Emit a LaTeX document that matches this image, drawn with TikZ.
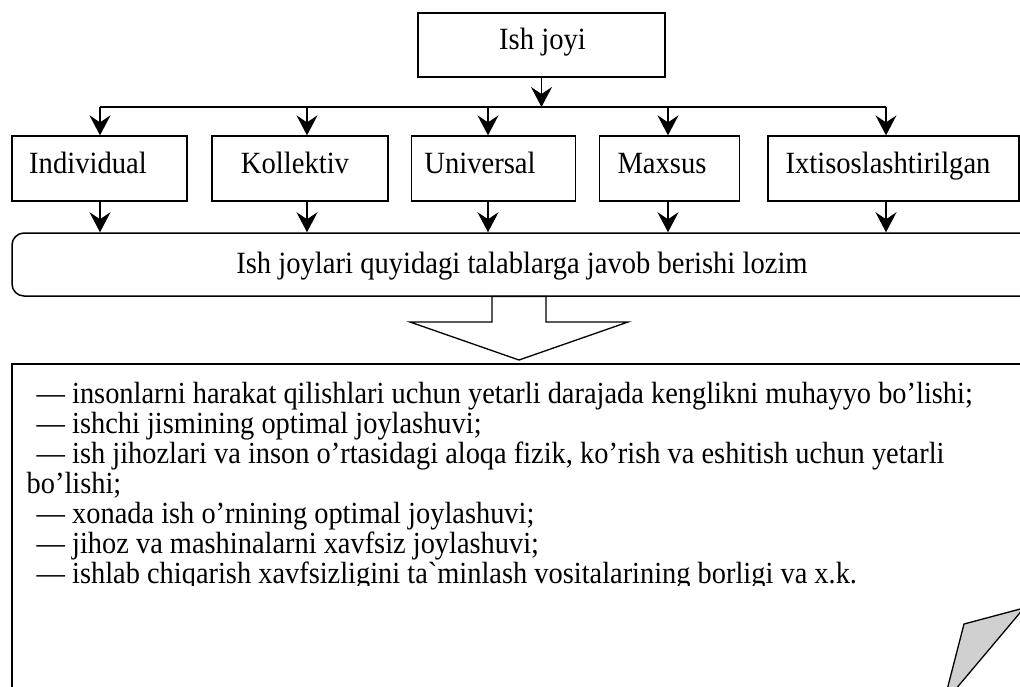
\documentclass[tikz,border=0pt]{standalone}
\usepackage{fontspec}
\newfontfamily\tnr{Liberation Serif}
\usetikzlibrary{arrows.meta}
\definecolor{curl}{RGB}{208,208,208}
\newcommand\vstretch[1]{\scalebox{1}[1.08]{#1}}
\begin{document}
\begin{tikzpicture}[x=1pt,y=-1pt,line width=1.3pt,
  box/.style={draw,inner sep=0pt,line width=1.3pt},
  lbl/.style={font=\tnr\fontsize{28.6}{30}\selectfont,inner sep=0pt,anchor=base},
  req/.style={font=\tnr\fontsize{28.4}{30}\selectfont,inner sep=0pt,anchor=base west},
  arr/.style={-{Stealth[length=20pt,width=21pt,inset=7pt]}}]
\useasboundingbox (0,0) rectangle (1020,686);
\clip (0,0) rectangle (1020,686);
% top box
\node[box,minimum width=247pt,minimum height=64pt] (top) at (541.5,45) {};
\node[lbl] (ttop) at (542.5,49) {\vstretch{Ish joyi}};
% bus
\coordinate (bus) at (541.5,107);
\coordinate (a1) at (100,107);
\coordinate (a2) at (307,107);
\coordinate (a3) at (488,107);
\coordinate (a4) at (668,107);
\coordinate (a5) at (886,107);
\draw[arr] (top.south) -- (bus);
\draw (a1) -- (a5);
% category boxes
\node[box,minimum width=175pt,minimum height=65pt] (b1) at (99.5,168.5) {};
\node[box,minimum width=176pt,minimum height=65pt] (b2) at (300,168.5) {};
\node[box,minimum width=164pt,minimum height=65pt] (b3) at (493.5,168.5) {};
\node[box,minimum width=140pt,minimum height=65pt] (b4) at (669.5,168.5) {};
\node[box,minimum width=251pt,minimum height=65pt] (b5) at (893.5,168.5) {};
\node[lbl] (t1) at (88,173) {\vstretch{Individual}};
\node[lbl] (t2) at (295,173) {\vstretch{Kollektiv}};
\node[lbl] (t3) at (480,173) {\vstretch{Universal}};
\node[lbl] (t4) at (662,173) {\vstretch{Maxsus}};
\node[lbl] (t5) at (888,173) {\vstretch{Ixtisoslashtirilgan}};
% rounded requirement box
\node[box,line width=1.5pt,rounded corners=12pt,minimum width=1040pt,minimum height=63pt] (rb) at (532,264.5) {};
\node[lbl] (trb) at (522,273) {\vstretch{Ish joylari quyidagi talablarga javob berishi lozim}};
\foreach \i in {1,...,5}{
  \draw[arr] (a\i) -- (a\i |- b\i.north);
  \draw[arr] (a\i |- b\i.south) -- (a\i |- rb.north);
}
% big hollow arrow
\draw[fill=white,line width=1.3pt] (492,296.5) -- (546,296.5) -- (546,322) -- (628,322) -- (519,360) -- (410,322) -- (492,322) -- cycle;
% big box
\draw[line width=1.5pt] (12,364) rectangle (1040,700);
% folded corner
\draw[fill=curl,line width=1.3pt,line join=round] (964,624) -- (1024,608) -- (955,690) -- (947,690) -- cycle;
% requirement text
\begin{scope}
\clip (0,0) rectangle (1020,585);
\node[req] (l1) at (36,403) {\vstretch{— insonlarni harakat qilishlari uchun yetarli darajada kenglikni muhayyo bo’lishi;}};
\node[req] (l2) at (36,433) {\vstretch{— ishchi jismining optimal joylashuvi;}};
\node[req] (l3) at (36,463) {\vstretch{— ish jihozlari va inson o’rtasidagi aloqa fizik, ko’rish va eshitish uchun yetarli}};
\node[req] (l4) at (26,493) {\vstretch{bo’lishi;}};
\node[req] (l5) at (36,523) {\vstretch{— xonada ish o’rnining optimal joylashuvi;}};
\node[req] (l6) at (36,553) {\vstretch{— jihoz va mashinalarni xavfsiz joylashuvi;}};
\node[req] (l7) at (36,583) {\vstretch{— ishlab chiqarish xavfsizligini ta`minlash vositalarining borligi va x.k.}};
\end{scope}
\end{tikzpicture}
\end{document}
